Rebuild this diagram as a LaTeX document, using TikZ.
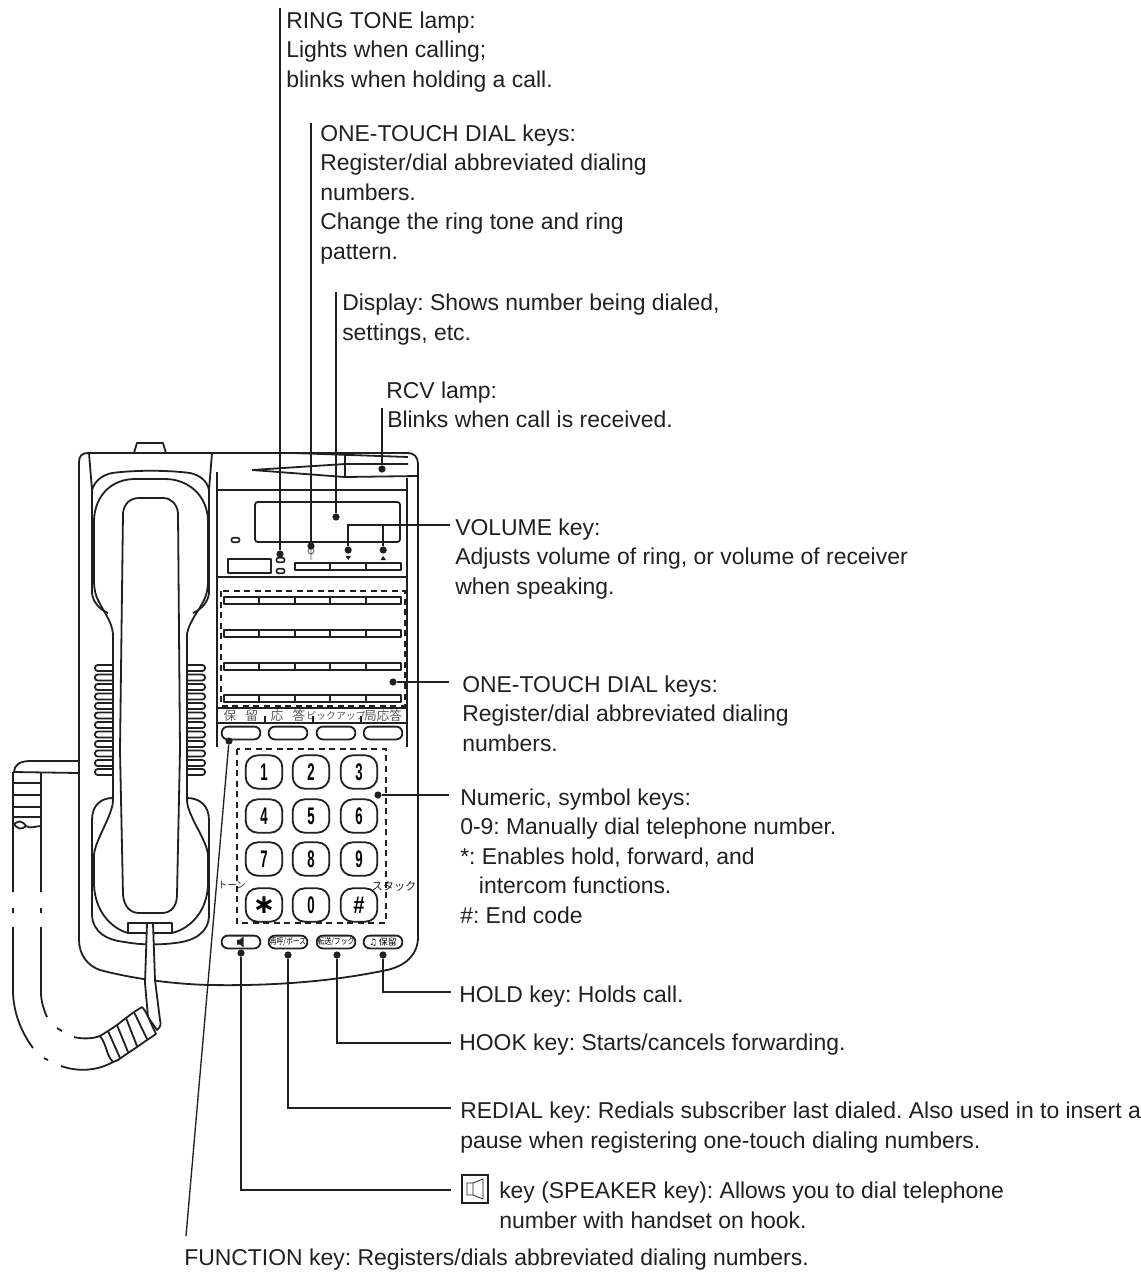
\documentclass[tikz,border=0pt]{standalone}
\usepackage{fontspec}
\setmainfont{Liberation Sans}
\newfontfamily\cjk{Noto Sans CJK JP}
\newfontfamily\dejavu{DejaVu Sans}
\definecolor{inkblack}{RGB}{35,31,32}
\definecolor{labelgray}{RGB}{90,90,90}
\usetikzlibrary{calc, positioning}
\frenchspacing

\begin{document}
\begin{tikzpicture}[
    x=0.75pt, y=-0.75pt,
    phone/.style={draw=inkblack, line width=1.35pt, line join=round},
    thinline/.style={draw=inkblack, line width=1pt},
    leader/.style={draw=inkblack, line width=1.3pt},
    dashbox/.style={draw=inkblack, line width=1.35pt, dash pattern=on 4.5pt off 3.4pt},
    dot/.style={circle, fill=inkblack, inner sep=0pt, minimum size=5.4pt},
    note/.style={anchor=base west, align=left, inner sep=0pt, text=inkblack,
      font=\fontsize{17.2}{22.1}\selectfont},
    pill/.style={phone, fill=white, rounded corners=4.6pt, minimum width=29pt, minimum height=9.6pt, inner sep=0pt},
    keybtn/.style={phone, rounded corners=9pt, minimum width=27.5pt, minimum height=25pt, inner sep=0pt,
      font=\fontsize{18}{18}\selectfont\bfseries},
    lamp/.style={draw=inkblack, line width=1.2pt, rounded corners=1.5pt, minimum width=6pt, minimum height=3.4pt, inner sep=0pt},
    strip/.style={inner sep=0pt, text=labelgray, font=\fontsize{9.5}{10}\cjk},
    smalljp/.style={inner sep=0pt, text=inkblack, font=\fontsize{7}{8}\cjk},
  ]
    \useasboundingbox (0, 0) rectangle (1141, 1272);

    % telephone body
    \draw[phone] (79, 940) -- (79, 462) .. controls (79, 456) and (82, 453) .. (88, 453) -- (408, 453)
      .. controls (414, 453) and (418, 457) .. (418, 464) -- (418, 937)
      .. controls (418, 955) and (405, 966) .. (387, 970) .. controls (330, 982) and (270, 986) .. (210, 985)
      .. controls (170, 984) and (130, 978) .. (100, 970) .. controls (88, 966) and (79, 955) .. (79, 940) -- cycle;
    \draw[phone] (134, 453) -- (137, 443) -- (163, 443) -- (166, 453);

    % cradle
    \draw[phone] (89, 453) -- (92, 490) .. controls (95, 480) and (103, 475) .. (112, 473)
      .. controls (135, 470) and (167, 470) .. (190, 473) .. controls (199, 475) and (207, 480) .. (209, 490) -- (212, 453);
    \draw[phone] (92, 490) -- (92, 593) .. controls (93, 602) and (99, 609) .. (108, 613);
    \draw[phone] (209, 490) -- (209, 593) .. controls (208, 602) and (202, 609) .. (193, 613);
    \draw[phone] (113, 798) .. controls (100, 798) and (92, 806) .. (92, 820) -- (92, 915)
      .. controls (93, 932) and (106, 940) .. (125, 942) .. controls (140, 945) and (160, 945) .. (175, 943)
      .. controls (195, 941) and (209, 932) .. (209, 915) -- (209, 820) .. controls (209, 806) and (200, 798) .. (187, 798);

    % handset
    \draw[phone] (113, 668) -- (113, 634) .. controls (112, 622) and (104, 612) .. (99, 602)
      .. controls (96, 597) and (94, 590) .. (94, 580) -- (94, 520) .. controls (95, 495) and (112, 479) .. (135, 479)
      -- (165, 479) .. controls (188, 479) and (207, 495) .. (208, 520) -- (208, 580)
      .. controls (208, 590) and (206, 597) .. (203, 602) .. controls (198, 612) and (189, 622) .. (187, 634) -- (187, 668);
    \draw[phone] (113, 668) -- (113, 800) .. controls (113, 815) and (95, 840) .. (94, 855) -- (94, 885)
      .. controls (95, 910) and (110, 928) .. (128, 933);
    \draw[phone] (187, 668) -- (187, 800) .. controls (187, 815) and (207, 840) .. (208, 855) -- (208, 885)
      .. controls (207, 910) and (192, 928) .. (172, 933);
    \draw[phone] (120, 750) -- (123, 513) .. controls (124, 504) and (130, 498) .. (139, 498) -- (163, 498)
      .. controls (171, 498) and (177, 504) .. (178, 513) -- (180, 750) -- (177, 895)
      .. controls (177, 906) and (171, 913) .. (162, 913) -- (139, 913) .. controls (130, 913) and (124, 906) .. (123, 895) -- cycle;
    \draw[phone] (128, 933) -- (128, 923) -- (172, 923) -- (172, 933) -- cycle;

    % grilles
    \foreach \y in {668, 677.5, 687, 696.5, 706, 715.5, 725, 734.5, 744, 753.5, 763, 772} {
      \draw[phone, rounded corners=2pt] (113, \y-3) -- (95, \y-3) -- (95, \y+3) -- (113, \y+3);
      \draw[phone, rounded corners=2pt] (187, \y-3) -- (205, \y-3) -- (205, \y+3) -- (187, \y+3);
    }

    % line cord
    \draw[phone] (79, 761) -- (30, 761) .. controls (20, 761) and (14, 765) .. (14, 772) -- (79, 773);
    \foreach \y in {783, 795, 807, 817} {
      \draw[phone] (13, \y) -- (41, \y);
    }
    \draw[phone] (13, 772) -- (13, 826) .. controls (17, 820) and (22, 820) .. (26, 826) .. controls (30, 829) and (36, 826) .. (41, 826) -- (41, 772);
    \draw[phone] (13, 822) .. controls (17, 830) and (22, 830) .. (26, 826);
    \draw[phone] (13, 826) -- (13, 892) (13, 908) -- (13, 913) (13, 927) -- (13, 993) .. controls (14, 1015) and (22, 1033) .. (33, 1048);
    \draw[phone] (41, 826) -- (41, 892) (41, 908) -- (41, 913) (41, 927) -- (41, 992) .. controls (41, 1002) and (44, 1010) .. (47, 1017);
    \draw[phone] (57, 1028) -- (62, 1031) (44, 1058) -- (48, 1060);
    \draw[phone] (74, 1037) .. controls (82, 1039) and (92, 1039) .. (100, 1036);
    \draw[phone] (61, 1066) .. controls (78, 1072) and (97, 1071) .. (113, 1062);

    % handset cord
    \draw[phone, fill=white] (147, 923) -- (145, 983) -- (148, 1017) -- (157, 1030) .. controls (161, 1027) and (161, 1023) .. (160, 1020)
      -- (155, 980) -- (153, 923) -- cycle;
    \draw[phone, fill=white] (100, 1036) .. controls (107, 1045) and (106, 1055) .. (113, 1062)
      -- (118, 1060) -- (128, 1053) -- (137, 1047) -- (147, 1040) -- (156, 1034) .. controls (150, 1022) and (147, 1012) .. (142, 1007)
      -- (134, 1012) -- (126, 1018) -- (117, 1025) -- (108, 1031) -- cycle;
    \foreach \xa/\ya/\xb/\yb in {108/1031/120/1058, 117/1025/128/1052, 126/1018/137/1046, 134/1012/147/1039} {
      \draw[phone] (\xa, \ya) -- (\xb, \yb);
    }

    % control panel
    \draw[phone] (217, 472) -- (217, 747);
    \draw[phone] (407, 478) -- (407, 747);
    \draw[phone] (217, 490) -- (407, 490);
    \draw[phone] (217, 577) -- (407, 577);
    \draw[phone] (217, 708) -- (407, 708);
    \draw[phone] (217, 723) -- (407, 723);
    \draw[phone] (293, 453) -- (408, 457);
    \draw[phone] (252, 470) -- (345, 464) -- (408, 464);
    \draw[phone] (252, 470) -- (345, 477) -- (418, 476);
    \draw[phone] (345, 454) -- (345, 477);
    \draw[phone, rounded corners=2pt] (255, 502) rectangle (400, 542);
    \node[lamp] (lampa) at (235.5, 540) {};
    \node[lamp] (lampb) at (280.5, 560) {};
    \node[lamp] (lampc) at (280.5, 571) {};
    \draw[phone] (228, 559) rectangle (271, 573);
    \draw[phone] (295, 563) rectangle (401, 570);
    \draw[phone] (330, 563) -- (330, 570) (366, 563) -- (366, 570);
    \draw[draw=labelgray, line width=0.6pt] (311, 551) circle (2.2pt) (311, 549) -- (311, 560);
    \fill[inkblack] (345.5, 556) -- (351, 556) -- (348.2, 560) -- cycle;
    \fill[inkblack] (380.5, 560) -- (386, 560) -- (383.2, 556) -- cycle;

    % one-touch keys
    \foreach \y in {597, 630, 663, 695} {
      \draw[phone] (224, \y) rectangle (401, \y+7);
      \foreach \x in {259, 295, 330, 366} {
        \draw[phone] (\x, \y) -- (\x, \y+7);
      }
    }
    \draw[dashbox] (221, 591) rectangle (405, 706);

    % strip captions and function keys
    \node[strip] (capa) at (241, 716) {保\hspace{7pt}留};
    \node[strip] (capb) at (288, 716) {応\hspace{7pt}答};
    \node[strip, font=\fontsize{7.4}{8}\cjk] (capc) at (336, 716) {ピックアップ};
    \node[strip] (capd) at (383, 716) {局応答};
    \draw[thinline] (265, 716) -- (265, 723) (313, 716) -- (313, 723) (361, 716) -- (361, 723);
    \foreach \nm/\x in {funa/241, funb/288, func/336, fund/383} {
      \node[pill] (\nm) at (\x, 733) {};
    }

    % numeric keys
    \draw[dashbox] (237, 749) rectangle (386, 923);
    \foreach \nm/\tx/\x/\y in {ka/1/264/772, kb/2/311/772, kc/3/359/772, kd/4/264/816, ke/5/311/816, kf/6/359/816,
        kg/7/264/859, kh/8/311/859, ki/9/359/859, kk/0/311/905} {
      \node[keybtn] (\nm) at (\x, \y) {\scalebox{.55}[1]{\tx}};
    }
    \node[keybtn, font=\fontsize{20}{20}\dejavu\bfseries] (kj) at (264, 905) {∗};
    \node[keybtn] (kl) at (359, 905) {\scalebox{.85}[1]{\#}};
    \node[smalljp] (tonetxt) at (232, 885) {トーン};
    \node[smalljp, font=\fontsize{8.4}{9}\cjk] (stacktxt) at (394, 886) {スタック};

    % bottom row keys
    \node[pill] (spkkey) at (241, 942) {};
    \fill[inkblack] (237, 939.5) -- (240, 939.5) -- (243.5, 936.5) -- (243.5, 947.5) -- (240, 944.5) -- (237, 944.5) -- cycle;
    \node[pill, font=\fontsize{6.4}{7}\cjk] (redkey) at (288, 942) {\scalebox{.8}[1]{再呼/ポーズ}};
    \node[pill, font=\fontsize{6.4}{7}\cjk] (hookkey) at (336, 942) {\scalebox{.8}[1]{転送/フック}};
    \node[pill, font=\fontsize{6.8}{7}\cjk] (holdkey) at (383, 942) {{\dejavu\bfseries ♫}\,保留};

    % dots
    \node[dot] (ringdot) at (280, 554) {};
    \node[dot] (onedot) at (311, 546) {};
    \node[dot] (dispdot) at (336, 517) {};
    \node[dot] (rcvdot) at (382, 469) {};
    \node[dot] (voldn) at (348.2, 550) {};
    \node[dot] (volup) at (383.2, 550) {};
    \node[dot] (keysdot) at (393, 682) {};
    \node[dot] (numdot) at (378, 795) {};
    \node[dot] (funcdot) at (229, 741) {};
    \node[dot] (spkdot) at (241, 953) {};
    \node[dot] (reddot) at (288, 955) {};
    \node[dot] (hookdot) at (337, 955) {};
    \node[dot] (holddot) at (383, 955) {};

    % labels, placed at the baseline of their last line
    \node[note] (ringtxt) at (286, 87) {RING TONE lamp:\\Lights when calling;\\blinks when holding a call.};
    \node[note] (onetxt) at (320, 259) {ONE-TOUCH DIAL keys:\\Register/dial abbreviated dialing\\numbers.\\Change the ring tone and ring\\pattern.};
    \node[note] (disptxt) at (342, 340) {Display: Shows number being dialed,\\settings, etc.};
    \node[note] (rcvtxt) at (386, 398) {RCV lamp:};
    \node[note] (rcvsub) at (387, 427) {Blinks when call is received.};
    \node[note] (voltxt) at (455, 594) {VOLUME key:\\Adjusts volume of ring, or volume of receiver\\when speaking.};
    \node[note] (keystxt) at (462, 751) {ONE-TOUCH DIAL keys:\\Register/dial abbreviated dialing\\numbers.};
    \node[note] (numtxt) at (460, 923) {Numeric, symbol keys:\\0-9: Manually dial telephone number.\\*: Enables hold, forward, and\\\hspace*{14pt}intercom functions.\\\#: End code};
    \node[note] (holdtxt) at (459, 1002) {HOLD key: Holds call.};
    \node[note] (hooktxt) at (459, 1050) {HOOK key: Starts/cancels forwarding.};
    \node[note] (redtxt) at (460, 1148) {REDIAL key: Redials subscriber last dialed. Also used in to insert a\\pause when registering one-touch dialing numbers.};
    \node[note] (spktxt) at (499, 1228) {key (SPEAKER key): Allows you to dial telephone\\number with handset on hook.};
    \node[note] (functxt) at (184, 1265) {FUNCTION key: Registers/dials abbreviated dialing numbers.};

    % speaker icon
    \node[draw=inkblack, line width=0.8pt, minimum width=19.5pt, minimum height=21pt, inner sep=0pt] (spkbox) at (475, 1189) {};
    \draw[line width=0.6pt, draw=inkblack] (467, 1183) rectangle (473, 1195) (473, 1183) -- (483, 1179) -- (483, 1199) -- (473, 1195);

    % connector ends
    \coordinate (ringend) at (280, 8);
    \coordinate (oneend) at (311, 123);
    \coordinate (dispend) at (336, 292);
    \coordinate (rcvend) at (382, 408);
    \coordinate (volend) at (450, 525);
    \coordinate (keysend) at (449, 682);
    \coordinate (numend) at (449, 795);
    \coordinate (holdend) at (451, 992);
    \coordinate (hookend) at (451, 1043);
    \coordinate (redend) at (451, 1108);
    \coordinate (spkend) at (451, 1190);
    \coordinate (funcend) at (186, 1236);

    \draw[leader] (ringdot) -- (ringend);
    \draw[leader] (onedot) -- (oneend);
    \draw[leader] (dispdot) -- (dispend);
    \draw[leader] (rcvdot) -- (rcvend);
    \draw[leader] (voldn) |- (volend);
    \draw[leader] (volup) -- (volup |- volend);
    \draw[leader] (keysdot) -- (keysend);
    \draw[leader] (numdot) -- (numend);
    \draw[leader] (holddot) |- (holdend);
    \draw[leader] (hookdot) |- (hookend);
    \draw[leader] (reddot) |- (redend);
    \draw[leader] (spkdot) |- (spkend);
    \draw[thinline] (funcdot) -- (funcend);
  \end{tikzpicture}
\end{document}
